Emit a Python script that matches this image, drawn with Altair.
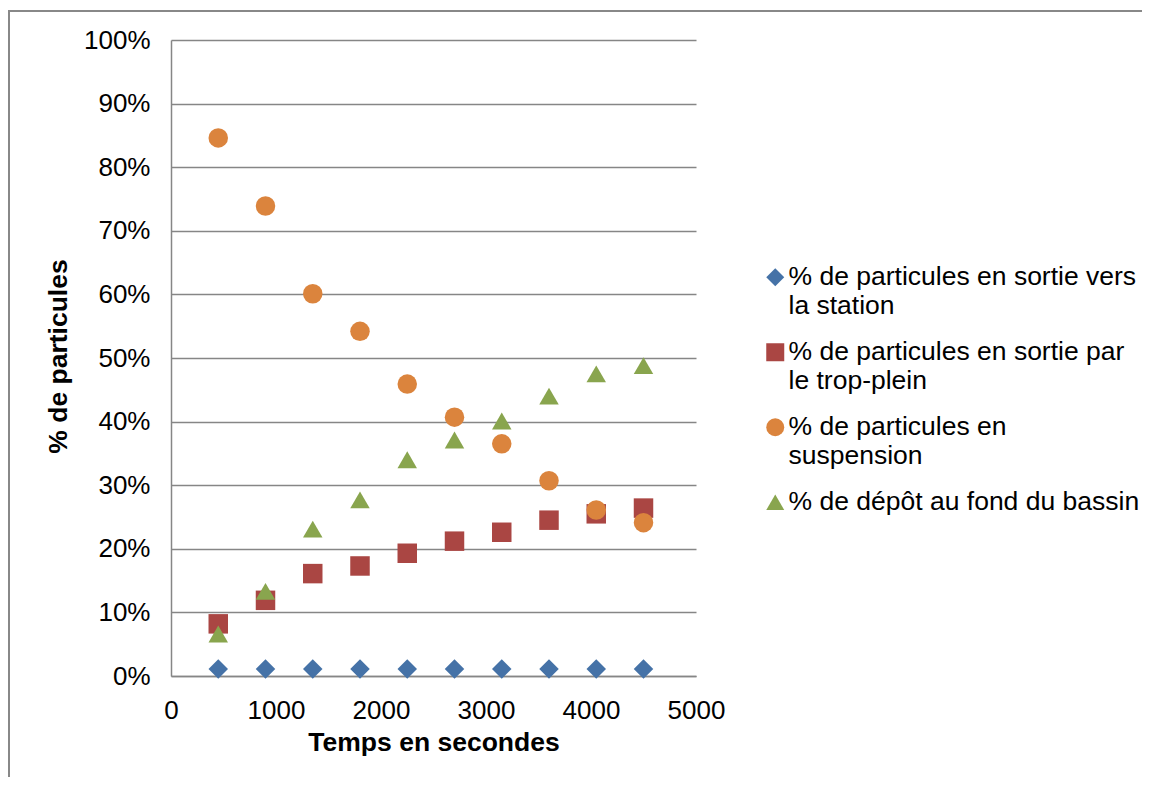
import json
import altair as alt
import pandas as pd

# ---- data ----
times = [450, 900, 1350, 1800, 2250, 2700, 3150, 3600, 4050, 4500]
station = [1.1, 1.1, 1.1, 1.1, 1.1, 1.1, 1.1, 1.1, 1.1, 1.1]
trop_plein = [8.2, 11.9, 16.1, 17.3, 19.3, 21.2, 22.6, 24.5, 25.5, 26.4]
suspension = [84.6, 73.9, 60.1, 54.2, 45.9, 40.7, 36.5, 30.7, 26.1, 24.1]
depot = [6.6, 13.3, 23.1, 27.7, 34.0, 37.1, 40.1, 44.0, 47.5, 48.8]

series_names = [
    "% de particules en sortie vers la station",
    "% de particules en sortie par le trop-plein",
    "% de particules en suspension",
    "% de dépôt au fond du bassin",
]
legend_lines = [
    ["% de particules en sortie vers", "la station"],
    ["% de particules en sortie par", "le trop-plein"],
    ["% de particules en", "suspension"],
    ["% de dépôt au fond du bassin"],
]
colors = ["#4572A7", "#AA4643", "#DB843D", "#89A54E"]
shapes = ["diamond", "square", "circle", "triangle-up"]
x_ticks = [0, 1000, 2000, 3000, 4000, 5000]
y_ticks = [0, 10, 20, 30, 40, 50, 60, 70, 80, 90, 100]

rows = []
for k, (name, vals) in enumerate(zip(series_names, [station, trop_plein, suspension, depot])):
    for t, v in zip(times, vals):
        rows.append({"t": t, "v": v, "serie": name, "k": k})
df = pd.DataFrame(rows)

label_expr = "".join(
    f"datum.label === {json.dumps(n, ensure_ascii=False)} ? {json.dumps(l, ensure_ascii=False)} : "
    for n, l in zip(series_names, legend_lines)
) + "datum.label"

FONT = "Liberation Sans"
GRAY = "#868686"

legend = alt.Legend(
    title=None,
    orient="none",
    legendX=591,
    legendY=224,
    padding=0,
    symbolSize=324,
    symbolStrokeWidth=0,
    symbolOpacity=1,
    labelFont=FONT,
    labelFontSize=26.5,
    labelColor="black",
    labelOffset=0,
    labelLimit=600,
    rowPadding=19,
    labelExpr=label_expr,
)

points = alt.Chart(df).mark_point(filled=True, size=380, opacity=1).encode(
    x=alt.X(
        "t:Q",
        scale=alt.Scale(domain=[0, 5000], nice=False),
        axis=alt.Axis(
            values=x_ticks,
            format="d",
            title="Temps en secondes",
            grid=False,
            labelPadding=21,
            labelFlush=False,
            labelOverlap=False,
            labelBound=False,
            titleX=262.5,
            titleY=74,
            titleBaseline="alphabetic",
            titleAlign="center",
        ),
    ),
    y=alt.Y(
        "v:Q",
        scale=alt.Scale(domain=[0, 100], nice=False),
        axis=alt.Axis(
            values=y_ticks,
            labelExpr="datum.value + '%'",
            title="% de particules",
            grid=True,
            labelPadding=21,
            labelFlush=False,
            labelOverlap=False,
            titleAngle=-90,
            titleX=-105,
            titleY=316,
            titleBaseline="alphabetic",
            titleAlign="center",
        ),
    ),
    color=alt.Color("serie:N", scale=alt.Scale(domain=series_names, range=colors), legend=legend),
    shape=alt.Shape("serie:N", scale=alt.Scale(domain=series_names, range=shapes), legend=legend),
    order=alt.Order("k:Q"),
)

frame_src = pd.DataFrame({"a": [0]})
frame_top = alt.Chart(frame_src).mark_rule(color="#888888", strokeWidth=2).encode(
    x=alt.value(-163), x2=alt.value(990), y=alt.value(-29)
)
frame_left = alt.Chart(frame_src).mark_rule(color="#888888", strokeWidth=2).encode(
    x=alt.value(-162), y=alt.value(-29), y2=alt.value(800)
)

chart = (
    alt.layer(frame_top, frame_left, points)
    .properties(
        width=525,
        height=636,
        autosize=alt.AutoSizeParams(type="none"),
        padding={"left": 163, "top": 32, "right": 446, "bottom": 101},
    )
    .configure_view(stroke=None)
    .configure_axis(
        labelFont=FONT,
        labelFontSize=26,
        labelColor="black",
        titleFont=FONT,
        titleFontSize=26.5,
        titleFontWeight="bold",
        titleColor="black",
        domainColor=GRAY,
        domainWidth=1.5,
        gridColor=GRAY,
        gridWidth=1.5,
        ticks=False,
        tickSize=0,
    )
)

chart.save("out.html", embed_options={"renderer": "svg", "actions": False})
